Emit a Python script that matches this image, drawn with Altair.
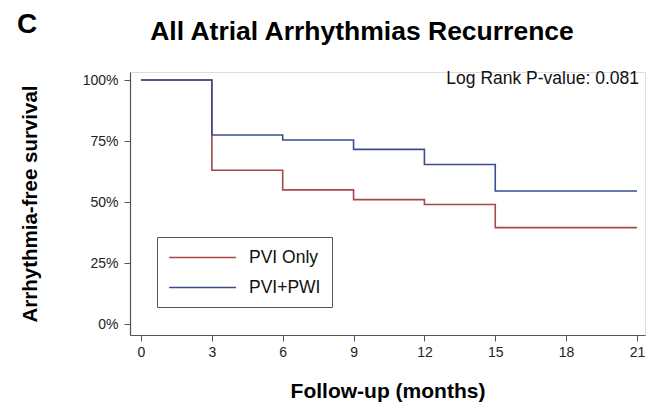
import altair as alt
import pandas as pd

months = [0, 3, 6, 9, 12, 15, 21]
pvi_only = [100, 63, 55, 51, 49, 39.5, 39.5]
pvi_pwi = [100, 77.5, 75.4, 71.6, 65.4, 54.5, 54.5]
groups = ["PVI Only", "PVI+PWI"]
colors = ["#A8474B", "#3C4C8E"]
x_ticks = [0, 3, 6, 9, 12, 15, 18, 21]
y_ticks = [0, 25, 50, 75, 100]

rows = []
for g, vals in zip(groups, [pvi_only, pvi_pwi]):
    for m, v in zip(months, vals):
        rows.append({"month": m, "surv": v, "group": g})
df = pd.DataFrame(rows)

FONT = "Liberation Sans"

xscale = alt.Scale(domain=[-0.466, 21.34], nice=False, zero=False)
yscale = alt.Scale(domain=[-4.5, 103.3], nice=False, zero=False)

lines = alt.Chart(df).mark_line(interpolate="step-after", strokeWidth=1.6).encode(
    x=alt.X("month:Q", scale=xscale,
            axis=alt.Axis(values=x_ticks, title="Follow-up (months)", grid=False,
                          titleFontSize=21, titleFont=FONT, titleFontWeight="bold",
                          titleColor="#000", titlePadding=21,
                          labelFontSize=14, labelFont=FONT, labelColor="#222",
                          labelPadding=4, tickSize=6, tickColor="#555",
                          domainColor="#555", domainWidth=1.2)),
    y=alt.Y("surv:Q", scale=yscale,
            axis=alt.Axis(values=y_ticks, title="Arrhythmia-free survival", grid=False,
                          labelExpr="datum.value + '%'",
                          titleFontSize=20.5, titleFont=FONT, titleFontWeight="bold",
                          titleColor="#000", titlePadding=42,
                          labelFontSize=14, labelFont=FONT, labelColor="#222",
                          labelPadding=6, tickSize=6, tickColor="#555",
                          domainColor="#555", domainWidth=1.2)),
    color=alt.Color("group:N", scale=alt.Scale(domain=groups, range=colors),
                    legend=alt.Legend(title=None, orient="none", legendX=27, legendY=165,
                                      symbolType="M-1,0H7", symbolSize=280,
                                      symbolStrokeWidth=1.5,
                                      labelFontSize=17.5, labelFont=FONT, labelColor="#111",
                                      labelOffset=62, padding=11, rowPadding=12,
                                      strokeColor="#555", fillColor="white")),
)

pval = alt.Chart(pd.DataFrame({"month": [21], "surv": [100], "t": ["Log Rank P-value: 0.081"]})).mark_text(
    align="right", baseline="middle", fontSize=17.5, font=FONT, color="#111", dx=2, dy=-1
).encode(x=alt.X("month:Q", scale=xscale), y=alt.Y("surv:Q", scale=yscale), text="t:N")

title = alt.Chart(pd.DataFrame({"t": ["All Atrial Arrhythmias Recurrence"]})).mark_text(
    align="center", baseline="alphabetic", fontSize=26.5, fontWeight="bold", font=FONT, color="#000"
).encode(x=alt.value(232), y=alt.value(-32), text="t:N")

panel = alt.Chart(pd.DataFrame({"t": ["C"]})).mark_text(
    align="left", baseline="alphabetic", fontSize=28, fontWeight="bold", font=FONT, color="#000"
).encode(x=alt.value(-113), y=alt.value(-39), text="t:N")

chart = alt.layer(lines, pval, title, panel).properties(
    width=515, height=263,
    autosize=alt.AutoSizeParams(type="none"),
    padding={"left": 130, "top": 72, "right": 1, "bottom": 71},
).configure_view(stroke=None).configure(background="white")

chart.save("out.html", embed_options={"renderer": "svg", "actions": False})
